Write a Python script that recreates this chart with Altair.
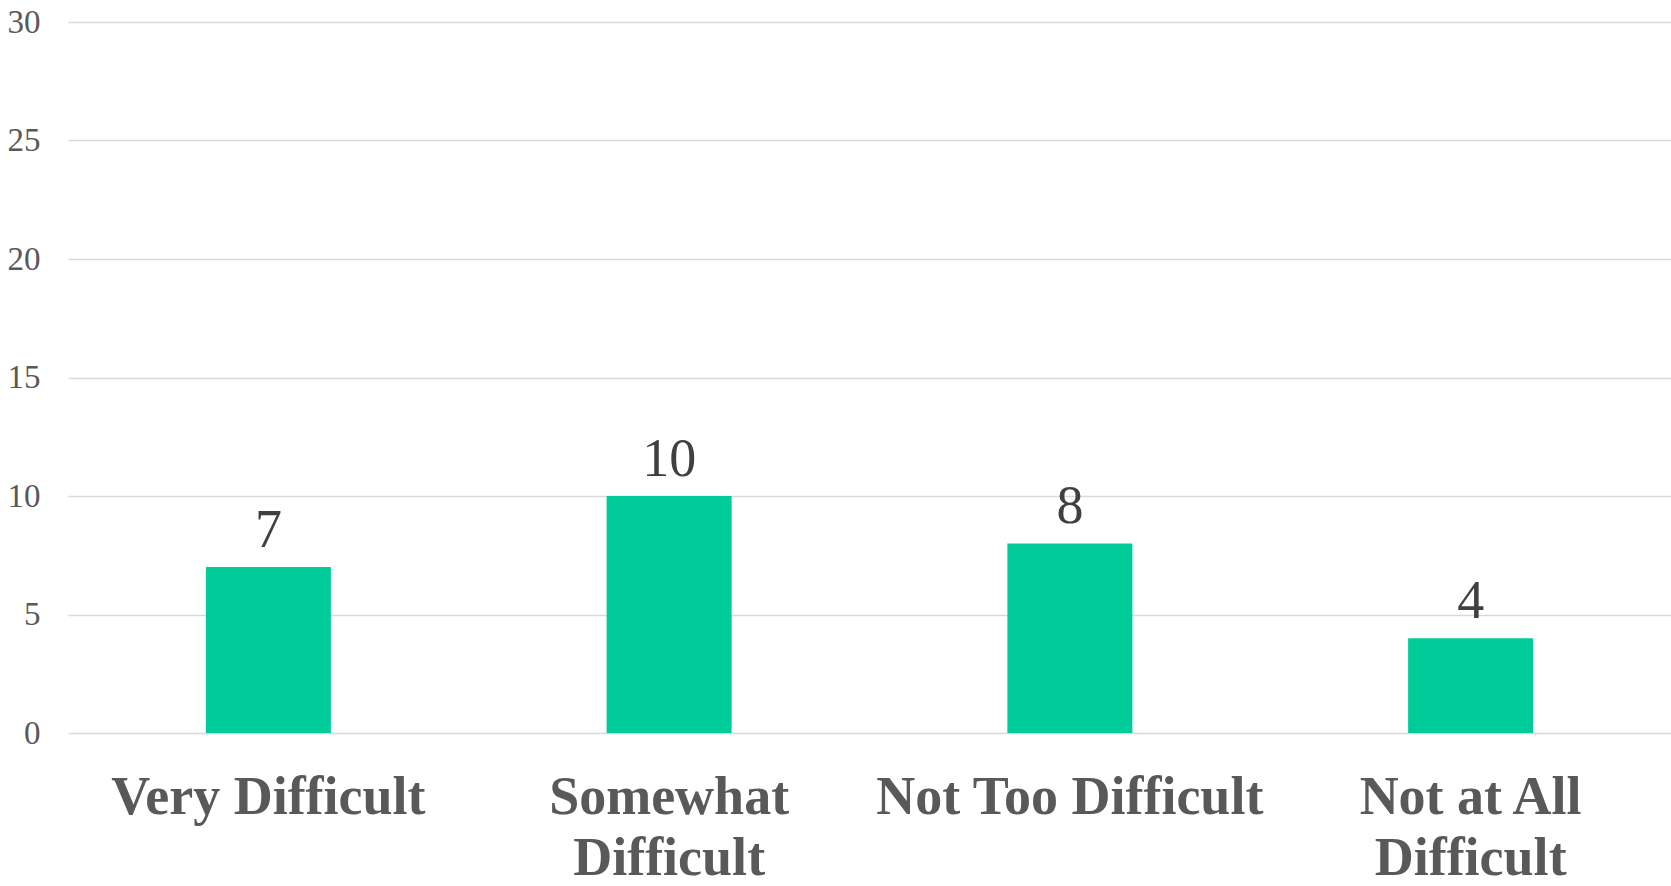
import altair as alt
import pandas as pd

# Survey responses: how difficult was it?
categories = ["Very Difficult", "Somewhat\nDifficult", "Not Too Difficult", "Not at All\nDifficult"]
counts = [7, 10, 8, 4]

df = pd.DataFrame({"category": categories, "count": counts})

SERIF = "Liberation Serif"

x = alt.X(
    "category:N",
    sort=categories,
    title=None,
    scale=alt.Scale(paddingInner=0, paddingOuter=0),
    axis=alt.Axis(
        labelAngle=0,
        labelExpr="split(datum.label, '\\n')",
        labelFont=SERIF,
        labelFontSize=54,
        labelFontWeight="bold",
        labelColor="#595959",
        labelLineHeight=61,
        labelBaseline="top",
        labelPadding=37,
        ticks=False,
        tickSize=0,
        domain=False,
        grid=False,
        labelLimit=0,
    ),
)

y = alt.Y(
    "count:Q",
    title=None,
    scale=alt.Scale(domain=[0, 30], nice=False),
    axis=alt.Axis(
        values=[0, 5, 10, 15, 20, 25, 30],
        labelFont=SERIF,
        labelFontSize=33,
        labelColor="#595959",
        labelPadding=28,
        ticks=False,
        tickSize=0,
        domain=False,
        grid=True,
        gridColor="#d9d9d9",
        gridWidth=1.4,
    ),
)

bars = alt.Chart(df).mark_bar(size=125, color="#00CC99").encode(x=x, y=y)

labels = alt.Chart(df).mark_text(
    font=SERIF, fontSize=54, color="#404040", baseline="alphabetic", dy=-20
).encode(x=x, y=y, text="count:Q")

chart = (
    alt.layer(bars, labels)
    .properties(
        width=1603,
        height=711,
        background="white",
        autosize=alt.AutoSizeParams(type="none"),
        padding={"left": 68, "top": 22, "right": 0, "bottom": 153},
    )
    .configure_view(strokeWidth=0, stroke="transparent")
)

chart.save("out.html", embed_options={"renderer": "svg", "actions": False})
